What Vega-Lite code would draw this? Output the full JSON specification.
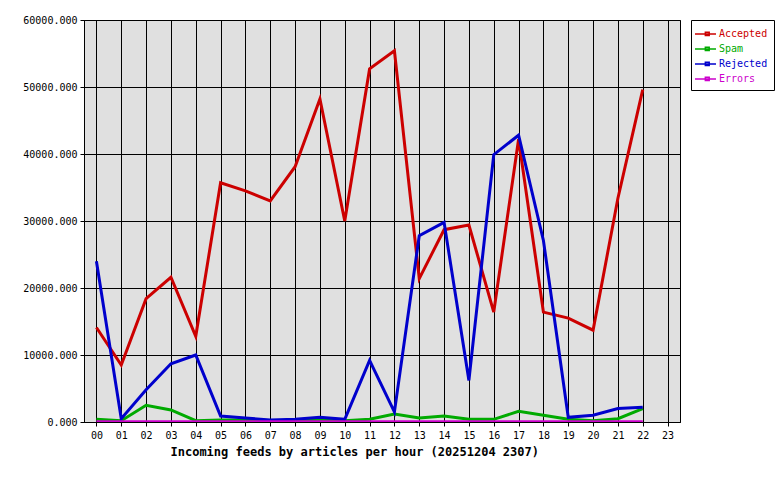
{
  "$schema": "https://vega.github.io/schema/vega-lite/v6.json",
  "autosize": {"type": "none"},
  "width": 596,
  "height": 402,
  "padding": {"left": 84, "top": 20, "right": 100, "bottom": 58},
  "background": "white",
  "config": {
    "view": {"fill": "#e0e0e0", "stroke": "black", "strokeWidth": 1},
    "font": "DejaVu Sans Mono",
    "axis": {
      "labelFont": "DejaVu Sans Mono",
      "labelFontSize": 10,
      "labelColor": "black",
      "domainColor": "black",
      "tickColor": "black",
      "gridColor": "black",
      "gridOpacity": 1,
      "gridWidth": 1,
      "domainWidth": 1
    }
  },
  "data": {
    "values": [
      {"hour": "00", "series": "Accepted", "value": 14100},
      {"hour": "01", "series": "Accepted", "value": 8500},
      {"hour": "02", "series": "Accepted", "value": 18400},
      {"hour": "03", "series": "Accepted", "value": 21600},
      {"hour": "04", "series": "Accepted", "value": 12800},
      {"hour": "05", "series": "Accepted", "value": 35700},
      {"hour": "06", "series": "Accepted", "value": 34500},
      {"hour": "07", "series": "Accepted", "value": 33000},
      {"hour": "08", "series": "Accepted", "value": 38100},
      {"hour": "09", "series": "Accepted", "value": 48200},
      {"hour": "10", "series": "Accepted", "value": 30000},
      {"hour": "11", "series": "Accepted", "value": 52700},
      {"hour": "12", "series": "Accepted", "value": 55400},
      {"hour": "13", "series": "Accepted", "value": 21400},
      {"hour": "14", "series": "Accepted", "value": 28700},
      {"hour": "15", "series": "Accepted", "value": 29400},
      {"hour": "16", "series": "Accepted", "value": 16400},
      {"hour": "17", "series": "Accepted", "value": 42200},
      {"hour": "18", "series": "Accepted", "value": 16400},
      {"hour": "19", "series": "Accepted", "value": 15500},
      {"hour": "20", "series": "Accepted", "value": 13700},
      {"hour": "21", "series": "Accepted", "value": 33400},
      {"hour": "22", "series": "Accepted", "value": 49600},
      {"hour": "00", "series": "Spam", "value": 400},
      {"hour": "01", "series": "Spam", "value": 200},
      {"hour": "02", "series": "Spam", "value": 2500},
      {"hour": "03", "series": "Spam", "value": 1800},
      {"hour": "04", "series": "Spam", "value": 200},
      {"hour": "05", "series": "Spam", "value": 300},
      {"hour": "06", "series": "Spam", "value": 300},
      {"hour": "07", "series": "Spam", "value": 200},
      {"hour": "08", "series": "Spam", "value": 200},
      {"hour": "09", "series": "Spam", "value": 300},
      {"hour": "10", "series": "Spam", "value": 200},
      {"hour": "11", "series": "Spam", "value": 400},
      {"hour": "12", "series": "Spam", "value": 1200},
      {"hour": "13", "series": "Spam", "value": 600},
      {"hour": "14", "series": "Spam", "value": 900},
      {"hour": "15", "series": "Spam", "value": 400},
      {"hour": "16", "series": "Spam", "value": 400},
      {"hour": "17", "series": "Spam", "value": 1600},
      {"hour": "18", "series": "Spam", "value": 1000},
      {"hour": "19", "series": "Spam", "value": 400},
      {"hour": "20", "series": "Spam", "value": 200},
      {"hour": "21", "series": "Spam", "value": 500},
      {"hour": "22", "series": "Spam", "value": 2000},
      {"hour": "00", "series": "Rejected", "value": 24000},
      {"hour": "01", "series": "Rejected", "value": 500},
      {"hour": "02", "series": "Rejected", "value": 4800},
      {"hour": "03", "series": "Rejected", "value": 8700},
      {"hour": "04", "series": "Rejected", "value": 10000},
      {"hour": "05", "series": "Rejected", "value": 900},
      {"hour": "06", "series": "Rejected", "value": 600},
      {"hour": "07", "series": "Rejected", "value": 300},
      {"hour": "08", "series": "Rejected", "value": 400},
      {"hour": "09", "series": "Rejected", "value": 700},
      {"hour": "10", "series": "Rejected", "value": 400},
      {"hour": "11", "series": "Rejected", "value": 9200},
      {"hour": "12", "series": "Rejected", "value": 1500},
      {"hour": "13", "series": "Rejected", "value": 27800},
      {"hour": "14", "series": "Rejected", "value": 29800},
      {"hour": "15", "series": "Rejected", "value": 6200},
      {"hour": "16", "series": "Rejected", "value": 39900},
      {"hour": "17", "series": "Rejected", "value": 42800},
      {"hour": "18", "series": "Rejected", "value": 27100},
      {"hour": "19", "series": "Rejected", "value": 700},
      {"hour": "20", "series": "Rejected", "value": 1000},
      {"hour": "21", "series": "Rejected", "value": 2000},
      {"hour": "22", "series": "Rejected", "value": 2200},
      {"hour": "00", "series": "Errors", "value": 30},
      {"hour": "01", "series": "Errors", "value": 30},
      {"hour": "02", "series": "Errors", "value": 30},
      {"hour": "03", "series": "Errors", "value": 30},
      {"hour": "04", "series": "Errors", "value": 30},
      {"hour": "05", "series": "Errors", "value": 30},
      {"hour": "06", "series": "Errors", "value": 30},
      {"hour": "07", "series": "Errors", "value": 30},
      {"hour": "08", "series": "Errors", "value": 30},
      {"hour": "09", "series": "Errors", "value": 30},
      {"hour": "10", "series": "Errors", "value": 30},
      {"hour": "11", "series": "Errors", "value": 30},
      {"hour": "12", "series": "Errors", "value": 30},
      {"hour": "13", "series": "Errors", "value": 30},
      {"hour": "14", "series": "Errors", "value": 30},
      {"hour": "15", "series": "Errors", "value": 30},
      {"hour": "16", "series": "Errors", "value": 30},
      {"hour": "17", "series": "Errors", "value": 30},
      {"hour": "18", "series": "Errors", "value": 30},
      {"hour": "19", "series": "Errors", "value": 30},
      {"hour": "20", "series": "Errors", "value": 30},
      {"hour": "21", "series": "Errors", "value": 30},
      {"hour": "22", "series": "Errors", "value": 30}
    ]
  },
  "mark": {"type": "line", "strokeWidth": 3, "strokeJoin": "miter", "clip": true},
  "encoding": {
    "x": {
      "field": "hour",
      "type": "ordinal",
      "scale": {
        "type": "point",
        "padding": 0.5,
        "domain": ["00","01","02","03","04","05","06","07","08","09","10","11","12","13","14","15","16","17","18","19","20","21","22","23"]
      },
      "axis": {
        "title": "Incoming feeds by articles per hour (20251204 2307)",
        "titleFont": "DejaVu Sans Mono",
        "titleFontSize": 12,
        "titleFontWeight": "bold",
        "titleColor": "black",
        "titleAnchor": "start",
        "titleAlign": "left",
        "titleX": 86,
        "titlePadding": 6,
        "labelAngle": 0,
        "labelPadding": 4,
        "tickSize": 4,
        "grid": true
      }
    },
    "y": {
      "field": "value",
      "type": "quantitative",
      "scale": {"domain": [0, 60000], "nice": false},
      "axis": {
        "title": null,
        "format": ".3f",
        "values": [0, 10000, 20000, 30000, 40000, 50000, 60000],
        "tickSize": 4,
        "labelPadding": 3,
        "grid": true
      }
    },
    "color": {
      "field": "series",
      "type": "nominal",
      "sort": ["Accepted", "Spam", "Rejected", "Errors"],
      "scale": {
        "domain": ["Accepted", "Spam", "Rejected", "Errors"],
        "range": ["#cc0000", "#00aa00", "#0000cc", "#cc00cc"]
      },
      "legend": {
        "title": null,
        "orient": "none",
        "legendX": 607,
        "legendY": 0,
        "fillColor": "white",
        "strokeColor": "black",
        "padding": 6,
        "rowPadding": 2,
        "labelFont": "DejaVu Sans Mono",
        "labelFontSize": 10,
        "labelOffset": 6,
        "symbolType": "M-1.43,0H1.57M0.05,-0.25H0.6V0.2H0.05Z",
        "symbolSize": 196,
        "symbolStrokeWidth": 1.5,
        "symbolFillColor": "transparent",
        "encode": {
          "labels": {"update": {"fill": {"scale": "color", "field": "value"}}}
        }
      }
    },
    "order": {"value": 0}
  }
}
